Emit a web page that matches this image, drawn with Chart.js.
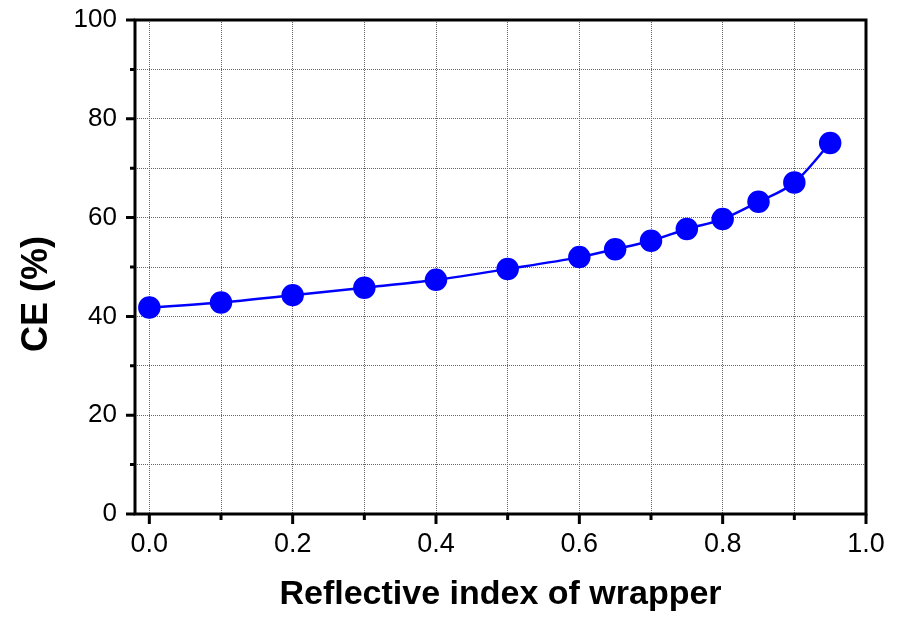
<!DOCTYPE html>
<html>
<head>
<meta charset="utf-8">
<script src="https://cdn.jsdelivr.net/npm/chart.js@4"></script>
<style>
  body { margin: 0; background: #fff; }
  #wrap { width: 905px; height: 621px; }
</style>
</head>
<body>
<div id="wrap"><canvas id="ce-chart"></canvas></div>
<script>
// data
let reflectiveIndex = [0, 0.1, 0.2, 0.3, 0.4, 0.5, 0.6, 0.65, 0.7, 0.75, 0.8, 0.85, 0.9, 0.95]
let cePercent = [41.8, 42.8, 44.3, 45.8, 47.4, 49.6, 52.0, 53.6, 55.3, 57.7, 59.7, 63.2, 67.1, 75.1]

// ticks (every one gets a dotted grid line, only the majors get a label)
let xTicks = [0, 0.1, 0.2, 0.3, 0.4, 0.5, 0.6, 0.7, 0.8, 0.9, 1.0]
let xLabels = ['0.0', '', '0.2', '', '0.4', '', '0.6', '', '0.8', '', '1.0']
let yTicks = [0, 10, 20, 30, 40, 50, 60, 70, 80, 90, 100]
let yLabels = ['0', '', '20', '', '40', '', '60', '', '80', '', '100']

let xTitle = 'Reflective index of wrapper'
let yTitle = 'CE (%)'

let points = reflectiveIndex.map(function(x, i) {
    return {x: x, y: cePercent[i]}
})

// black box round the plot + outward tick marks + rotated y title
let framePlugin = {
    id: 'frame',
    afterDraw: function(chart) {
        let ctx = chart.ctx
        let area = chart.chartArea
        let xs = chart.scales.x
        let ys = chart.scales.y
        ctx.save()
        ctx.strokeStyle = '#000'
        ctx.lineWidth = 3
        ctx.lineCap = 'butt'
        ctx.beginPath()
        xTicks.forEach(function(v, i) {
            let px = xs.getPixelForValue(v)
            let len = xLabels[i] ? 10 : 6
            ctx.moveTo(px, area.bottom)
            ctx.lineTo(px, area.bottom + len)
        })
        yTicks.forEach(function(v, i) {
            let py = ys.getPixelForValue(v)
            let len = yLabels[i] ? 9 : 5
            ctx.moveTo(area.left, py)
            ctx.lineTo(area.left - len, py)
        })
        ctx.stroke()
        ctx.strokeRect(area.left, area.top, area.right - area.left, area.bottom - area.top)

        ctx.translate(37, 294)
        ctx.rotate(-Math.PI / 2)
        ctx.fillStyle = '#000'
        ctx.font = 'bold 36px "Liberation Sans", Arial, sans-serif'
        ctx.textAlign = 'center'
        ctx.textBaseline = 'middle'
        ctx.fillText(yTitle, 0, 0)
        ctx.restore()
    }
}

let ctx = document.querySelector('#ce-chart').getContext('2d')

let ceChart = new Chart(ctx, {
    type: 'scatter',
    data: {
        datasets: [{
            data: points,
            showLine: true,
            borderColor: '#0000ff',
            backgroundColor: '#0000ff',
            borderWidth: 2.5,
            pointRadius: 10,
            pointHoverRadius: 10,
            cubicInterpolationMode: 'monotone',
            clip: false
        }]
    },
    options: {
        responsive: true,
        maintainAspectRatio: false,
        animation: false,
        events: [],
        layout: { padding: { left: 0, right: 39, top: 20, bottom: 0 } },
        plugins: {
            legend: { display: false },
            tooltip: { enabled: false }
        },
        scales: {
            x: {
                type: 'linear',
                min: -0.02,
                max: 1.0,
                afterBuildTicks: function(scale) {
                    scale.ticks = xTicks.map(function(v) { return {value: v} })
                },
                afterFit: function(scale) {
                    scale.height = 107
                    scale.paddingLeft = 0
                    scale.paddingRight = 0
                },
                grid: { color: '#666', lineWidth: 1, drawTicks: false },
                border: { display: false, dash: [1, 1] },
                ticks: {
                    padding: 14,
                    color: '#000',
                    maxRotation: 0,
                    autoSkip: false,
                    font: { family: '"Liberation Sans", Arial, sans-serif', size: 27 },
                    callback: function(value, index) { return xLabels[index] }
                },
                title: {
                    display: true,
                    text: xTitle,
                    color: '#000',
                    padding: { top: 0, bottom: 6 },
                    font: { family: '"Liberation Sans", Arial, sans-serif', size: 34, weight: 'bold' }
                }
            },
            y: {
                min: 0,
                max: 100,
                afterBuildTicks: function(scale) {
                    scale.ticks = yTicks.map(function(v) { return {value: v} })
                },
                afterFit: function(scale) {
                    scale.width = 135
                    scale.paddingTop = 0
                    scale.paddingBottom = 0
                },
                grid: { color: '#666', lineWidth: 1, drawTicks: false },
                border: { display: false, dash: [1, 1] },
                ticks: {
                    padding: 18,
                    color: '#000',
                    autoSkip: false,
                    font: { family: '"Liberation Sans", Arial, sans-serif', size: 26 },
                    callback: function(value, index) { return yLabels[index] }
                }
            }
        }
    },
    plugins: [framePlugin]
})
</script>
</body>
</html>
